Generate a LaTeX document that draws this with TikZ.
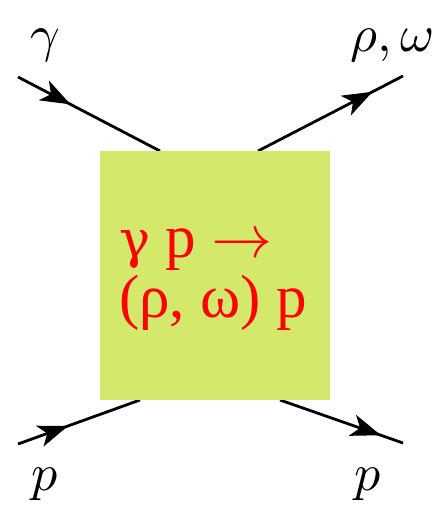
\documentclass[tikz,border=0pt]{standalone}
\usepackage{fontspec}
\newfontfamily\timesfont{Liberation Serif}
\newfontfamily\gammafont{DejaVu Serif}
\newfontfamily\lmm{Latin Modern Math}
\usetikzlibrary{arrows.meta,decorations.markings}
\definecolor{boxgreen}{RGB}{212,232,108}
\tikzset{
  legtip/.tip={Stealth[length=30pt,width=22pt,inset=8pt]},
  leg/.style={line width=2.8pt, black, postaction={decorate},
    decoration={markings, mark=at position #1 with {\arrow{legtip}}}},
  lbl/.style={anchor=base, inner sep=0pt, font=\lmm\fontsize{52}{60}\selectfont},
  redtxt/.style={anchor=base west, text=red, inner sep=0pt, font=\timesfont\fontsize{61}{61}\selectfont}
}
\begin{document}
\begin{tikzpicture}[x=1pt,y=-1pt]
\useasboundingbox (0,0) rectangle (441,510);
\coordinate (a1) at (18,77);
\coordinate (a2) at (160,151);
\coordinate (b1) at (258,151);
\coordinate (b2) at (403,76);
\coordinate (c1) at (18,444);
\coordinate (c2) at (140,400);
\coordinate (d1) at (280,400);
\coordinate (d2) at (403,443);
\draw[leg=0.37] (a1) -- (a2);
\draw[leg=0.79] (b1) -- (b2);
\draw[leg=0.41] (c1) -- (c2);
\draw[leg=0.82] (d1) -- (d2);
\node[fill=boxgreen, minimum width=230pt, minimum height=249pt, inner sep=0pt] (box) at (215,275.5) {};
\node[redtxt] (t1) at (119,257) {{\gammafont\fontsize{52}{61}\selectfont γ} p {\lmm →}};
\node[redtxt] (t2) at (119,317) {(ρ, ω) p};
\node[lbl] (g) at (44,52) {𝛾};
\node[lbl] (rw) at (392,52) {𝜌,\,𝜔};
\node[lbl] (p1) at (45,490) {𝑝};
\node[lbl] (p2) at (368,490) {𝑝};
\end{tikzpicture}
\end{document}
